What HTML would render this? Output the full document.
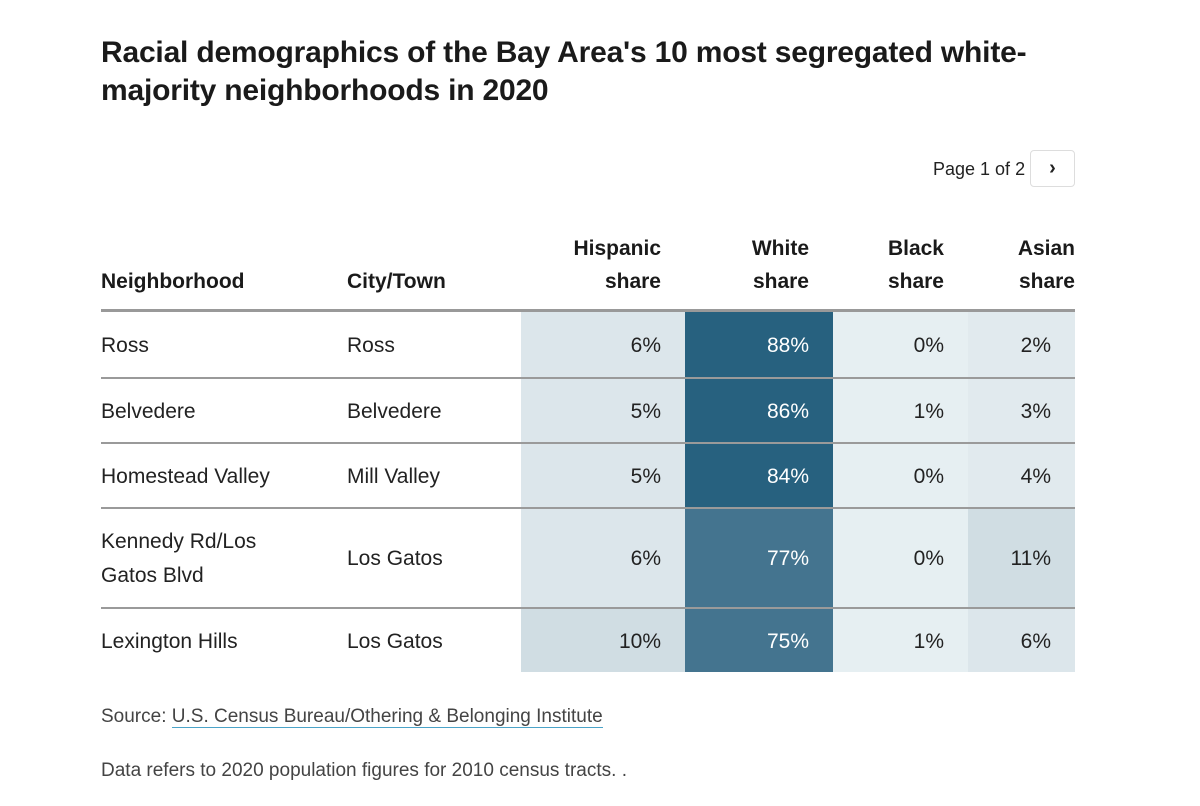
<!DOCTYPE html>
<html><head><meta charset="utf-8">
<style>
body{margin:0;width:1200px;height:806px;background:#fff;font-family:"Liberation Sans",sans-serif;color:#222;position:relative;overflow:hidden}
.t{position:absolute;white-space:nowrap}
h1{position:absolute;left:101px;top:34px;margin:0;font-size:30px;line-height:38px;font-weight:bold;color:#1a1a1a;letter-spacing:-0.2px;white-space:nowrap}
.hd{position:absolute;font-weight:bold;font-size:21px;line-height:33px;color:#1a1a1a}
.cell{position:absolute;font-size:21px}
.line{position:absolute;left:101px;width:974px;height:1px;background:#9a9a9a}
</style></head><body>
<h1>Racial demographics of the Bay Area's 10 most segregated white-<br>majority neighborhoods in 2020</h1>
<div class="t" style="left:933px;top:159px;font-size:18px">Page 1 of 2</div>
<div style="position:absolute;left:1030px;top:150px;width:43px;height:35px;border:1px solid #ddd;border-radius:4px;text-align:center;line-height:35px;font-size:20px;font-weight:bold">&#x203A;</div>
<div class="hd" style="left:101px;top:265px">Neighborhood</div>
<div class="hd" style="left:347px;top:265px">City/Town</div>
<div class="hd" style="right:539px;top:232px;text-align:right">Hispanic<br>share</div>
<div class="hd" style="right:391px;top:232px;text-align:right">White<br>share</div>
<div class="hd" style="right:256px;top:232px;text-align:right">Black<br>share</div>
<div class="hd" style="right:125px;top:232px;text-align:right">Asian<br>share</div>
<div id="tbl"></div>
<div class="t" style="left:101px;top:706px;font-size:19px;color:#444">Source: <span style="border-bottom:1px solid #4aa3c8">U.S. Census Bureau/Othering &amp; Belonging Institute</span></div>
<div class="t" style="left:101px;top:760px;font-size:19px;color:#444">Data refers to 2020 population figures for 2010 census tracts. .</div>
<script>
const neighborhoods=["Ross","Belvedere","Homestead Valley","Kennedy Rd/Los<br>Gatos Blvd","Lexington Hills"];
const cities=["Ross","Belvedere","Mill Valley","Los Gatos","Los Gatos"];
const hispanic=[6,5,5,6,10];
const white=[88,86,84,77,75];
const black=[0,1,0,0,1];
const asian=[2,3,4,11,6];
const rowTops=[311,377,442,507,607,672];
const cols=[[521,685],[685,833],[833,968],[968,1075]];
function color(v){
  if(v>=80)return["#27617f","#fff"];
  if(v>=60)return["#44748f","#fff"];
  if(v>=10)return["#d0dde3","#222"];
  if(v>=5)return["#dce6eb","#222"];
  if(v>=2)return["#e1eaee","#222"];
  return["#e6eff2","#222"];
}
const tbl=document.getElementById('tbl');
const series=[hispanic,white,black,asian];
const sNames=['hispanic','white','black','asian'];
for(let r=0;r<neighborhoods.length;r++){
  const top=rowTops[r],bot=rowTops[r+1],h=bot-top;
  series.forEach((arr,c)=>{
    const [bg,fg]=color(arr[r]);
    const d=document.createElement('div');
    d.className='cell';
    
    
    d.style.cssText=`left:${cols[c][0]}px;top:${top}px;width:${cols[c][1]-cols[c][0]-24}px;height:${h}px;line-height:${h+4}px;background:${bg};color:${fg};text-align:right;padding-right:24px`;
    d.textContent=arr[r]+'%';
    tbl.appendChild(d);
  });
  const n=document.createElement('div');
  n.className='cell';
  
  
  n.style.cssText=`left:101px;top:${top+2}px;height:${h}px;display:flex;align-items:center;line-height:34px`;
  n.innerHTML=neighborhoods[r];
  tbl.appendChild(n);
  const ct=document.createElement('div');
  ct.className='cell';
  
  
  ct.style.cssText=`left:347px;top:${top}px;height:${h}px;line-height:${h+4}px`;
  ct.textContent=cities[r];
  tbl.appendChild(ct);
}
rowTops.forEach((y,i)=>{
  if(i===rowTops.length-1)return;
  const l=document.createElement('div');
  l.className='line';
  
  
  l.style.top=(i===0?y-2:y)+'px';
  if(i===0){l.style.height='3px';l.style.background='#999';}
  else{l.style.height='2px';}
  tbl.appendChild(l);
});
</script>
</body></html>
